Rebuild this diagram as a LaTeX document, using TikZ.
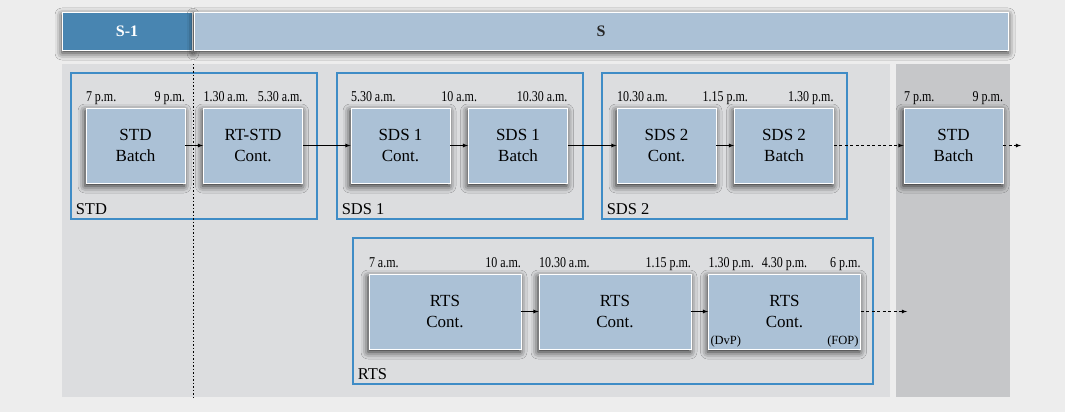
\documentclass[tikz,border=0pt]{standalone}
\usepackage{fontspec}
\setmainfont{Liberation Serif}
\newfontfamily\timefont[FakeStretch=0.8]{Liberation Serif}
\usetikzlibrary{arrows}
\usetikzlibrary{calc}
\usetikzlibrary{shadows.blur}

\definecolor{pagegray}{HTML}{EDEDED}
\definecolor{panelgray}{HTML}{DCDDDF}
\definecolor{nightgray}{HTML}{C6C7C9}
\definecolor{jobblue}{HTML}{ABC1D6}
\definecolor{prevblue}{HTML}{4885B1}
\definecolor{groupblue}{HTML}{3F8CC6}

\tikzset{
  job/.style={draw=white, line width=0.8pt, fill=jobblue, minimum width=99pt,
    minimum height=75pt, align=center, inner sep=0pt,
    font=\fontsize{17}{21}\selectfont,
    blur shadow={shadow xshift=-1pt, shadow yshift=-3pt, shadow blur radius=7pt, shadow opacity=85}},
  longjob/.style={job, minimum width=152pt},
  day/.style={draw=white, line width=0.8pt, fill=jobblue, minimum height=38pt,
    inner sep=0pt, font=\fontsize{16}{18}\selectfont\bfseries, text=black!85,
    blur shadow={shadow xshift=0pt, shadow yshift=-3pt, shadow blur radius=7pt, shadow opacity=80}},
  group/.style={draw=groupblue, line width=1.3pt, inner sep=0pt, minimum height=146pt},
  grplabel/.style={anchor=south west, inner sep=5pt, font=\fontsize{16.5}{18}\selectfont},
  tm/.style={inner sep=0pt, text depth=3pt, yshift=3pt, font=\timefont\fontsize{15}{17}\selectfont},
  pay/.style={inner sep=2pt, font=\fontsize{12.5}{14}\selectfont},
  later/.style={dash pattern=on 3pt off 2.5pt}
}

\begin{document}
\begin{tikzpicture}[->, >=latex, x=1pt, y=-1pt, node distance=117.5pt, thick]
        \useasboundingbox (0,0) rectangle (1065,412);
        \fill[pagegray] (0,0) rectangle (1065,412);
        \fill[panelgray] (62,64) rectangle (890,397);
        \fill[nightgray] (896,64) rectangle (1010,397);

        % groups
        \node[group, minimum width=246pt] (gstd) at (194,146) {};
        \node[group, minimum width=246pt] (gsds1) at (460,146) {};
        \node[group, minimum width=245pt] (gsds2) at (724.5,146) {};
        \node[group, minimum width=520pt] (grts) at (613,311) {};
        \node[grplabel] (lstd) at (gstd.south west) {STD};
        \node[grplabel] (lsds1) at (gsds1.south west) {SDS 1};
        \node[grplabel] (lsds2) at (gsds2.south west) {SDS 2};
        \node[grplabel] (lrts) at (grts.south west) {RTS};

        % days
        \node[day, fill=prevblue, text=white, minimum width=130pt] (prev) at (127,31) {S-1};
        \node[day, minimum width=814pt] (cur) at (601,31) {S};

        % jobs
        \node[job] (stda) at (135.5,145.5) {STD\\Batch};
        \node[job] (rtstd) [right of=stda] {RT-STD\\Cont.};
        \node[job] (sds1c) at (400.5,145.5) {SDS 1\\Cont.};
        \node[job] (sds1b) [right of=sds1c] {SDS 1\\Batch};
        \node[job] (sds2c) at (666.5,145.5) {SDS 2\\Cont.};
        \node[job] (sds2b) [right of=sds2c] {SDS 2\\Batch};
        \node[job] (stdb) at (953.5,145.5) {STD\\Batch};
        \node[longjob] (rts1) at (445,311.5) {RTS\\Cont.};
        \node[longjob] (rts2) [right of=rts1, node distance=170pt] {RTS\\Cont.};
        \node[longjob] (rts3) [right of=rts2, node distance=169.5pt] {RTS\\Cont.};
        \node[pay, anchor=south west] (dvp) at (rts3.south west) {(DvP)};
        \node[pay, anchor=south east] (fop) at (rts3.south east) {(FOP)};

        % times
        \node[tm, anchor=south west] (stda-l) at (stda.north west) {7 p.m.};
        \node[tm, anchor=south east] (stda-r) at (stda.north east) {9 p.m.};
        \node[tm, anchor=south west] (rtstd-l) at (rtstd.north west) {1.30 a.m.};
        \node[tm, anchor=south east] (rtstd-r) at (rtstd.north east) {5.30 a.m.};
        \node[tm, anchor=south west] (sds1c-l) at (sds1c.north west) {5.30 a.m.};
        \node[tm, anchor=south] (sds1c-r) at ($(sds1c.north east)!0.5!(sds1b.north west)$) {10 a.m.};
        \node[tm, anchor=south east] (sds1b-r) at (sds1b.north east) {10.30 a.m.};
        \node[tm, anchor=south west] (sds2c-l) at (sds2c.north west) {10.30 a.m.};
        \node[tm, anchor=south] (sds2c-r) at ($(sds2c.north east)!0.5!(sds2b.north west)$) {1.15 p.m.};
        \node[tm, anchor=south east] (sds2b-r) at (sds2b.north east) {1.30 p.m.};
        \node[tm, anchor=south west] (stdb-l) at (stdb.north west) {7 p.m.};
        \node[tm, anchor=south east] (stdb-r) at (stdb.north east) {9 p.m.};
        \node[tm, anchor=south west] (rts1-l) at (rts1.north west) {7 a.m.};
        \node[tm, anchor=south east] (rts1-r) at (rts1.north east) {10 a.m.};
        \node[tm, anchor=south west] (rts2-l) at (rts2.north west) {10.30 a.m.};
        \node[tm, anchor=south east] (rts2-r) at (rts2.north east) {1.15 p.m.};
        \node[tm, anchor=south west] (rts3-l) at (rts3.north west) {1.30 p.m.};
        \node[tm, anchor=south] (rts3-m) at (rts3.north) {4.30 p.m.};
        \node[tm, anchor=south east] (rts3-r) at (rts3.north east) {6 p.m.};

        \coordinate (nextstd) at (1021,145.5);
        \coordinate (nextrts) at (907,311.5);
        \coordinate (cuttop) at (193,64);
        \coordinate (cutbot) at (193,397);

        \path (stda) edge (rtstd)
              (rtstd) edge (sds1c)
              (sds1c) edge (sds1b)
              (sds1b) edge (sds2c)
              (sds2c) edge (sds2b)
              (rts1) edge (rts2)
              (rts2) edge (rts3);
        \path[later] (sds2b) edge (stdb)
              (stdb) edge (nextstd)
              (rts3) edge (nextrts);
        \draw[-, line width=0.7pt, dash pattern=on 1.5pt off 2pt] (cuttop) -- (cutbot);
    \end{tikzpicture}
\end{document}
